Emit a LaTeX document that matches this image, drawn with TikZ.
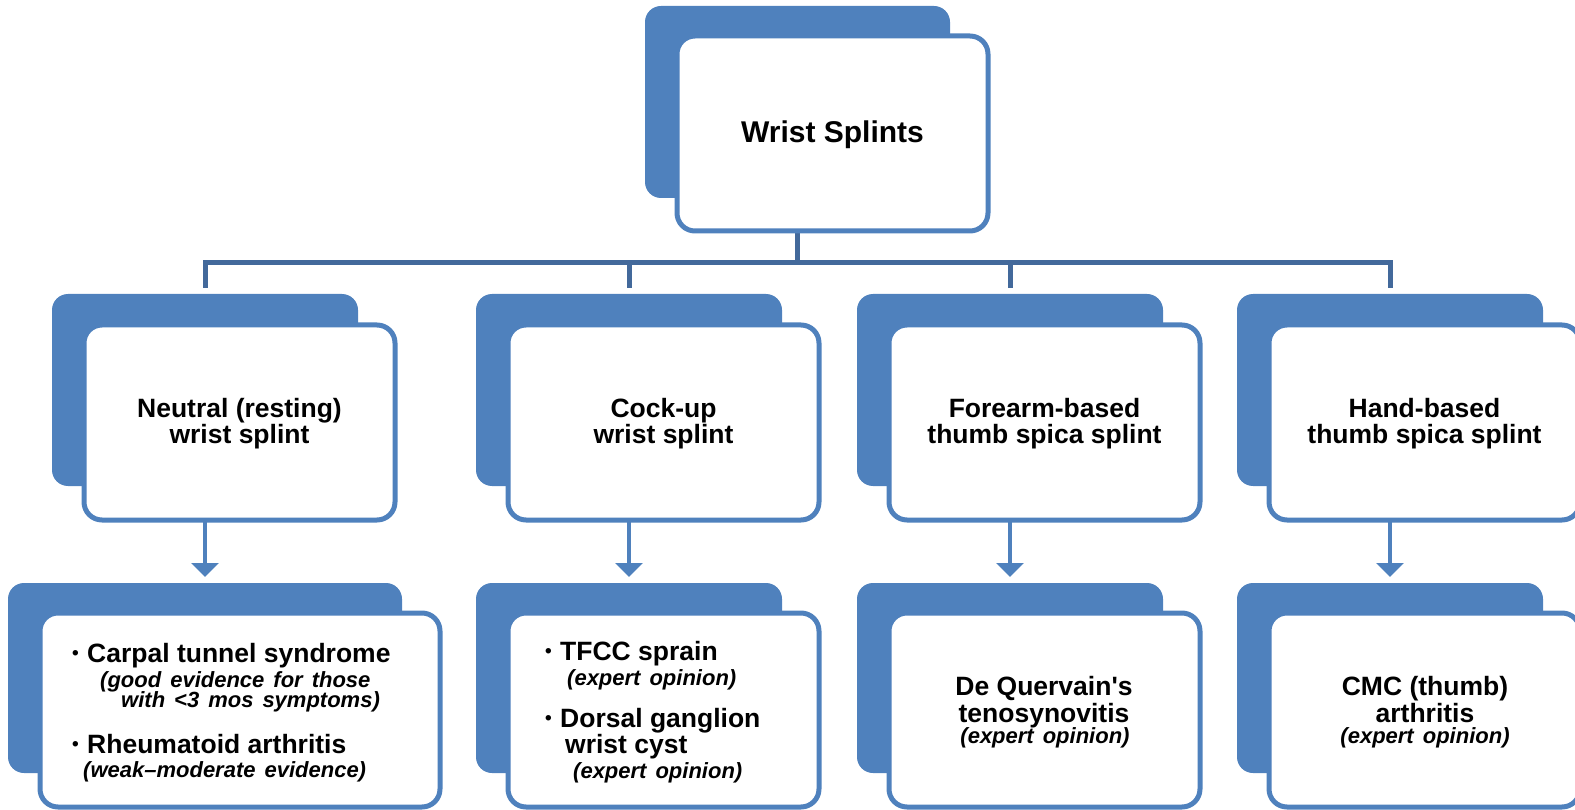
\documentclass[tikz,border=0pt]{standalone}
\usepackage{fontspec}
\setmainfont{Liberation Sans}[Ligatures=TeXOff]
\usetikzlibrary{arrows.meta,backgrounds}
\definecolor{boxblue}{HTML}{4F81BD}
\definecolor{linkblue}{HTML}{43699B}

\begin{document}
\begin{tikzpicture}[x=1pt,y=-1pt,
  backbox/.style={draw=none, fill=boxblue, rounded corners=16pt, anchor=north west,
    outer sep=0pt, inner sep=0pt, minimum width=306pt, minimum height=192pt},
  frontbox/.style={draw=boxblue, line width=5pt, fill=white, rounded corners=18pt,
    anchor=north west, outer sep=0pt, inner sep=0pt, minimum width=311pt, minimum height=195pt},
  tree/.style={draw=linkblue, line width=5pt},
  arr/.style={draw=boxblue, line width=4pt, shorten >=6pt,
    -{Triangle[width=27pt,length=14pt]}},
  title/.style={font=\fontsize{30pt}{30pt}\selectfont\bfseries, inner sep=0pt, anchor=base},
  main/.style={font=\fontsize{26.5pt}{26.5pt}\selectfont\bfseries, inner sep=0pt, anchor=base},
  note/.style={font=\fontsize{22pt}{22pt}\selectfont\bfseries\itshape\widespace,
    inner sep=0pt, anchor=base},
  lft/.style={anchor=base west}
]
\newcommand\bul{\makebox[15pt][l]{\raisebox{2.5pt}{\fontsize{19pt}{19pt}\selectfont •}}}
\newcommand\widespace{\spaceskip=9pt plus 2pt\relax}
\useasboundingbox (0,0) rectangle (1575,810);

% ---- top box
\node[backbox, minimum width=305pt] (topb) at (645,6) {};
\node[frontbox] (topf) at (677,36) {};
\node[title] (toptxt) at (832.5,143) {Wrist Splints};

% ---- splint types
\node[backbox] (c1b) at (52,294) {};
\node[frontbox] (c1f) at (84,325) {};
\node[backbox] (c2b) at (476,294) {};
\node[frontbox] (c2f) at (508,325) {};
\node[backbox] (c3b) at (857,294) {};
\node[frontbox] (c3f) at (889,325) {};
\node[backbox] (c4b) at (1237,294) {};
\node[frontbox] (c4f) at (1269,325) {};

\node[main] (c1a) at (239.5,417.5) {Neutral (resting)};
\node[main] (c1c) at (239.5,443.5) {wrist splint};
\node[main] (c2a) at (663.5,417.5) {Cock-up};
\node[main] (c2c) at (663.5,443.5) {wrist splint};
\node[main] (c3a) at (1044.5,417.5) {Forearm-based};
\node[main] (c3c) at (1044.5,443.5) {thumb spica splint};
\node[main] (c4a) at (1424.5,417.5) {Hand-based};
\node[main] (c4c) at (1424.5,443.5) {thumb spica splint};

% ---- indications
\node[backbox, minimum width=394pt, minimum height=190pt] (d1b) at (8,583) {};
\node[frontbox, minimum width=400pt, minimum height=194pt] (d1f) at (40,613) {};
\node[backbox, minimum height=190pt] (d2b) at (476,583) {};
\node[frontbox, minimum height=194pt] (d2f) at (508,613) {};
\node[backbox, minimum height=190pt] (d3b) at (857,583) {};
\node[frontbox, minimum height=194pt] (d3f) at (889,613) {};
\node[backbox, minimum height=190pt] (d4b) at (1237,583) {};
\node[frontbox, minimum height=194pt] (d4f) at (1269,613) {};

\node[main, lft] (d1a) at (72,662) {\bul Carpal tunnel syndrome};
\node[note, lft] (d1c) at (100,687) {(good evidence for those};
\node[note, lft] (d1d) at (121,707) {with <3 mos symptoms)};
\node[main, lft] (d1e) at (72,753) {\bul Rheumatoid arthritis};
\node[note, lft] (d1g) at (83,777) {(weak–moderate evidence)};

\node[main, lft] (d2a) at (545,660) {\bul TFCC sprain};
\node[note, lft] (d2c) at (567,685) {(expert opinion)};
\node[main, lft] (d2d) at (545,727) {\bul Dorsal ganglion};
\node[main, lft] (d2e) at (565,753) {wrist cyst};
\node[note, lft] (d2g) at (573,778) {(expert opinion)};

\node[main] (d3a) at (1044,695) {De Quervain's};
\node[main] (d3c) at (1044,722) {tenosynovitis};
\node[note] (d3d) at (1045,743) {(expert opinion)};

\node[main] (d4a) at (1425,695) {CMC (thumb)};
\node[main] (d4c) at (1425,722) {arthritis};
\node[note] (d4d) at (1425,743) {(expert opinion)};

% ---- connectors
\begin{pgfonlayer}{background}
  \coordinate (hub) at (topb.south |- 0,263);
  \draw[tree] (topb.south |- topf.south) -- (hub);
  \foreach \n in {c1,c2,c3,c4}
    \draw[tree, shorten >=6pt] (hub) -| (\n b.north);
\end{pgfonlayer}
\foreach \n/\m in {c1/d1,c2/d2,c3/d3,c4/d4}
  \draw[arr] (\n f.south -| \n b.north) -- (\m b.north);
\end{tikzpicture}
\end{document}
